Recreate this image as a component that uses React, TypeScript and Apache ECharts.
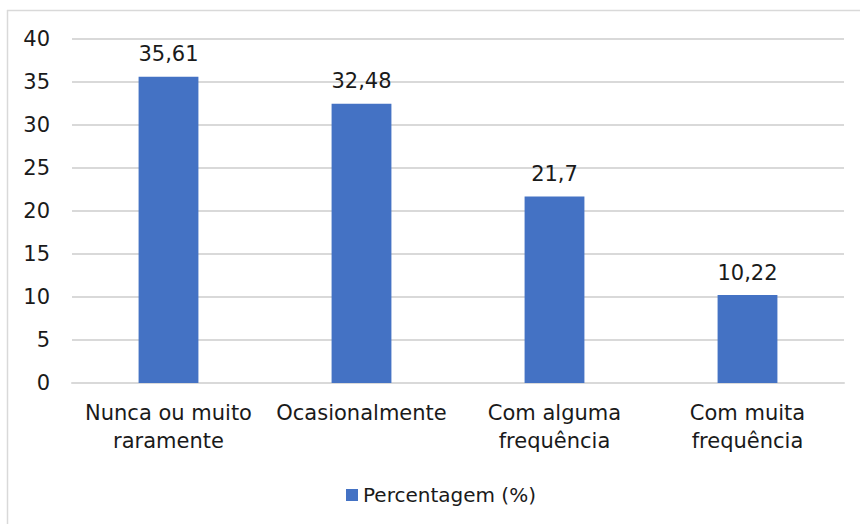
import React, { useEffect, useRef } from "react";
import * as echarts from "echarts";

const categories = ["Nunca ou muito\nraramente", "Ocasionalmente", "Com alguma\nfrequência", "Com muita\nfrequência"];
const values = [35.61, 32.48, 21.7, 10.22];
const seriesName = "Percentagem (%)";
const yTicks = { min: 0, max: 40, interval: 5 };

const FONT = "'DejaVu Sans', sans-serif";
const TEXT = "#1a1a1a";
const FS = 21;

export default function App() {
  const ref = useRef<HTMLDivElement>(null);
  useEffect(() => {
    if (!ref.current) return;
    const chart = echarts.init(ref.current, null, { renderer: "svg" });
    chart.setOption({
      animation: false,
      backgroundColor: "#ffffff",
      textStyle: { fontFamily: FONT },
      grid: { left: 72, right: 16, top: 39, bottom: 141, containLabel: false },
      legend: {
        left: 341,
        top: 480,
        itemWidth: 12,
        itemHeight: 12,
        itemGap: 6,
        icon: "rect",
        textStyle: { fontFamily: FONT, fontSize: 20, color: TEXT },
        data: [seriesName],
      },
      xAxis: {
        type: "category",
        data: categories,
        axisLine: { show: true, lineStyle: { color: "#d9d9d9", width: 2 } },
        axisTick: { show: false },
        axisLabel: {
          interval: 0,
          margin: 16,
          fontFamily: FONT,
          fontSize: FS,
          lineHeight: 28,
          color: TEXT,
          align: "center",
          verticalAlign: "top",
        },
      },
      yAxis: {
        type: "value",
        min: yTicks.min,
        max: yTicks.max,
        interval: yTicks.interval,
        axisLine: { show: false },
        axisTick: { show: false },
        splitLine: { lineStyle: { color: "#d9d9d9", width: 2 } },
        axisLabel: { margin: 22, fontFamily: FONT, fontSize: FS, color: TEXT },
      },
      series: [
        {
          name: seriesName,
          type: "bar",
          data: values,
          barWidth: "31%",
          itemStyle: { color: "#4472c4" },
          label: {
            show: true,
            position: "top",
            distance: 12,
            fontFamily: FONT,
            fontSize: FS,
            color: TEXT,
            formatter: (p: any) => String(p.value).replace(".", ","),
          },
        },
      ],
      graphic: [
        { type: "line", shape: { x1: 7, y1: 10.5, x2: 860, y2: 10.5 }, style: { stroke: "#d9d9d9", lineWidth: 1.5 } },
        { type: "line", shape: { x1: 7.5, y1: 10, x2: 7.5, y2: 524 }, style: { stroke: "#d9d9d9", lineWidth: 1.5 } },
      ],
    });
    return () => chart.dispose();
  }, []);
  return <div ref={ref} style={{ position: "fixed", left: 0, top: 0, width: 860, height: 524 }} />;
}
